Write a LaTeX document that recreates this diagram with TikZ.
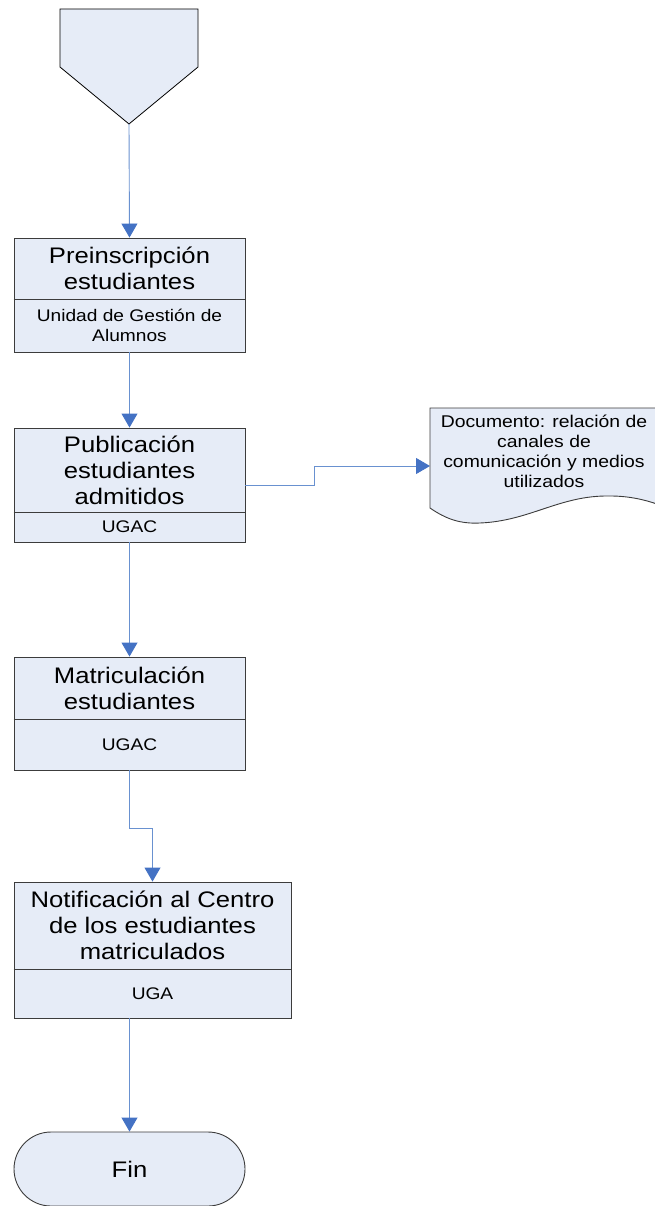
\documentclass[tikz,border=0pt]{standalone}
\usepackage{fontspec}
\setmainfont[FakeStretch=1.14]{Liberation Sans}
\usetikzlibrary{arrows.meta,shapes.misc}
\definecolor{boxfill}{RGB}{230,236,247}
\definecolor{boxline}{RGB}{60,60,60}
\definecolor{conn}{RGB}{105,145,208}
\definecolor{tipc}{RGB}{68,114,196}
\begin{document}
\begin{tikzpicture}[x=1pt,y=-1pt,
  proc/.style={draw=boxline, fill=boxfill, line width=0.9pt, rectangle, inner sep=0pt},
  divider/.style={draw=boxline, line width=0.9pt},
  ttl/.style={align=center, font=\fontsize{22.5}{26}\selectfont, inner sep=0pt},
  subt/.style={align=center, font=\fontsize{16.8}{19.5}\selectfont, inner sep=0pt},
  doct/.style={align=center, font=\fontsize{17}{20}\selectfont, inner sep=0pt},
  flow/.style={draw=conn, line width=0.9pt, -{Triangle[width=16pt,length=14pt,color=tipc]}}
]
\useasboundingbox (0,0) rectangle (655,1206);

% off-page connector
\draw[draw=black, fill=boxfill, line width=0.8pt] (60,9) -- (198,9) -- (198,67) -- (129,124) -- (60,67) -- cycle;
\coordinate (offtip) at (129,124);

% box 1
\node[proc, minimum width=231pt, minimum height=114pt] (b1) at (129.5,295) {};
\draw[divider] (b1.west |- 0,299) -- (b1.east |- 0,299);
\node[ttl] (t1) at (129.5,268.5) {Preinscripción\\estudiantes};
\node[subt] (s1) at (129.5,325.5) {Unidad de Gestión de\\Alumnos};

% box 2
\node[proc, minimum width=231pt, minimum height=114pt] (b2) at (129.5,485) {};
\draw[divider] (b2.west |- 0,512) -- (b2.east |- 0,512);
\node[ttl] (t2) at (129.5,470) {Publicación\\estudiantes\\admitidos};
\node[subt] (s2) at (129.5,527) {UGAC};

% box 3
\node[proc, minimum width=231pt, minimum height=113pt] (b3) at (129.5,713.5) {};
\draw[divider] (b3.west |- 0,719) -- (b3.east |- 0,719);
\node[ttl] (t3) at (129.5,688) {Matriculación\\estudiantes};
\node[subt] (s3) at (129.5,744.5) {UGAC};

% box 4
\node[proc, minimum width=277pt, minimum height=136pt] (b4) at (152.5,950) {};
\draw[divider] (b4.west |- 0,969) -- (b4.east |- 0,969);
\node[ttl] (t4) at (152.5,925) {Notificación al Centro\\de los estudiantes\\matriculados};
\node[subt] (s4) at (152.5,993.5) {UGA};

% end terminator
\node[draw=boxline, fill=boxfill, line width=0.9pt, rounded rectangle, minimum width=231pt, minimum height=74pt, inner sep=0pt, font=\fontsize{22.5}{26}\selectfont] (fin) at (129.5,1169) {Fin};

% document shape
\draw[draw=boxline, fill=boxfill, line width=0.9pt]
  (430,408) -- (657,408) -- (657,504)
  .. controls (645,500) and (630,496) .. (610,496)
  .. controls (560,495) and (530,521) .. (480,523)
  .. controls (460,524) and (446,519) .. (430,508) -- cycle;
\node[doct] (doc) at (544,451) {Documento: relación de\\canales de\\comunicación y medios\\utilizados};
\coordinate (docin) at (430,466);

% connectors
\draw[flow] (offtip) -- (b1.north);
\draw[flow] (b1.south) -- (b2.north);
\draw[flow] (b2.east) -- (314,485) -- (314,466) -- (docin);
\draw[flow] (b2.south) -- (b3.north);
\draw[flow] (b3.south) -- ++(0,58) -| (b4.north);
\draw[flow] (fin.north |- b4.south) -- (fin.north);
\end{tikzpicture}
\end{document}
